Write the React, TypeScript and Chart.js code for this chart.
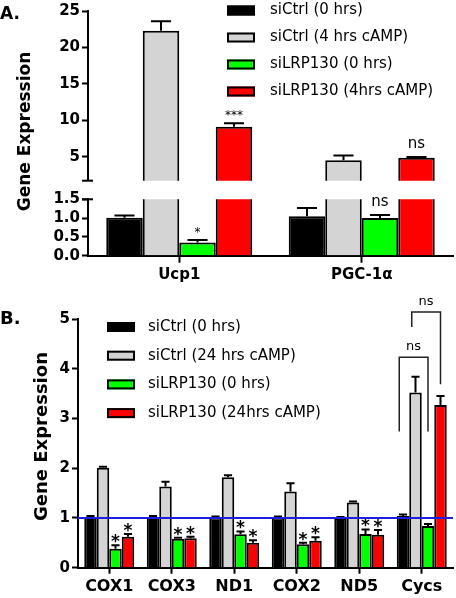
import React, { useEffect, useRef } from "react";
import { Chart, registerables } from "chart.js";

Chart.register(...registerables);

const W = 456;
const H = 598;
const FAMILY = "'DejaVu Sans', 'Liberation Sans', sans-serif";

// ---------- Panel A data ----------
const aCategories = ["Ucp1", "PGC-1α"];
const aSeriesLabels = ["siCtrl (0 hrs)", "siCtrl (4 hrs cAMP)", "siLRP130 (0 hrs)", "siLRP130 (4hrs cAMP)"];
const aCtrl0 = [1.01, 1.05];
const aCtrl4 = [22.3, 4.5];
const aLrp0 = [0.35, 1.0];
const aLrp4 = [9.1, 4.85];
const aCtrl0Err = [0.06, 0.22];
const aCtrl4Err = [1.3, 0.65];
const aLrp0Err = [0.07, 0.08];
const aLrp4Err = [0.5, 0.1];
const aLrp0Sig = ["*", "ns"];
const aLrp4Sig = ["***", "ns"];
const aUpperRange = [1.7, 25];
const aLowerRange = [0, 1.5];
const aUpperTicks = [5, 10, 15, 20, 25];
const aLowerTicks = [0, 0.5, 1.0, 1.5];

// ---------- Panel B data ----------
const bCategories = ["COX1", "COX3", "ND1", "COX2", "ND5", "Cycs"];
const bSeriesLabels = ["siCtrl (0 hrs)", "siCtrl (24 hrs cAMP)", "siLRP130 (0 hrs)", "siLRP130 (24hrs cAMP)"];
const bCtrl0 = [1.02, 1.02, 1.01, 1.01, 1.0, 1.04];
const bCtrl24 = [2.01, 1.63, 1.82, 1.53, 1.31, 3.52];
const bLrp0 = [0.38, 0.58, 0.67, 0.47, 0.68, 0.84];
const bLrp24 = [0.62, 0.59, 0.5, 0.54, 0.66, 3.27];
const bCtrl0Err = [0.02, 0.02, 0.02, 0.02, 0.02, 0.03];
const bCtrl24Err = [0.02, 0.1, 0.04, 0.17, 0.02, 0.32];
const bLrp0Err = [0.07, 0.02, 0.06, 0.03, 0.09, 0.04];
const bLrp24Err = [0.06, 0.03, 0.05, 0.07, 0.1, 0.18];
const bLrp0Sig = ["*", "*", "*", "*", "*", ""];
const bLrp24Sig = ["*", "*", "*", "*", "*", ""];
const bTicks = [0, 1, 2, 3, 4, 5];
const bRange = [0, 5];
const bRefLine = 1;
// significance brackets (Cycs)
const bracketCategory = 5;
const bracketFrom = [0, 1];
const bracketTo = [2, 3];
const bracketTop = [4.23, 5.14];
const bracketLeftEnd = [2.74, 4.84];
const bracketRightEnd = [2.74, 3.69];
const bracketLabels = ["ns", "ns"];

const COLORS = ["#000000", "#d4d4d4", "#00ff00", "#ff0000"];

// ---------- plugins ----------
const errorBarsPlugin = {
  id: "errorBars",
  afterDatasetsDraw(chart: any, _a: any, opts: any) {
    const errs: number[][] = opts.errors;
    if (!errs) return;
    const ys = chart.scales.y;
    const ctx = chart.ctx;
    ctx.save();
    ctx.strokeStyle = "#000";
    ctx.lineWidth = opts.lineWidth || 2;
    chart.data.datasets.forEach((ds: any, i: number) => {
      const meta = chart.getDatasetMeta(i);
      meta.data.forEach((bar: any, j: number) => {
        const v = ds.data[j];
        const e = errs[i][j];
        if (v < ys.min || v + e > ys.max) return;
        const { x, width } = bar.getProps(["x", "width"], true);
        const y0 = ys.getPixelForValue(v);
        const y1 = ys.getPixelForValue(v + e);
        const hw = (width * opts.capRatio) / 2;
        ctx.beginPath();
        ctx.moveTo(x, y0);
        ctx.lineTo(x, y1);
        ctx.moveTo(x - hw, y1);
        ctx.lineTo(x + hw, y1);
        ctx.stroke();
      });
    });
    ctx.restore();
  },
};

const sigPlugin = {
  id: "sig",
  afterDatasetsDraw(chart: any, _a: any, opts: any) {
    const labels: string[][] = opts.labels;
    const errs: number[][] = opts.errors;
    if (!labels) return;
    const ys = chart.scales.y;
    const ctx = chart.ctx;
    ctx.save();
    ctx.fillStyle = "#000";
    ctx.textAlign = "center";
    ctx.textBaseline = "alphabetic";
    chart.data.datasets.forEach((ds: any, i: number) => {
      const row = labels[i];
      if (!row) return;
      const meta = chart.getDatasetMeta(i);
      meta.data.forEach((bar: any, j: number) => {
        const t = row[j];
        if (!t) return;
        const top = ds.data[j] + errs[i][j];
        if (top < ys.min || top > ys.max) return;
        const isNs = t === "ns";
        ctx.font = isNs ? opts.nsFont : opts.starFont;
        ctx.fillText(t, bar.x, ys.getPixelForValue(top) + (isNs ? opts.nsDy : opts.starDy));
      });
    });
    ctx.restore();
  },
};

const legendPlugin = {
  id: "boxLegend",
  afterDraw(chart: any, _a: any, opts: any) {
    if (!opts.x && opts.x !== 0) return;
    const ctx = chart.ctx;
    ctx.save();
    chart.data.datasets.forEach((ds: any, i: number) => {
      const cy = opts.y + i * opts.rowH;
      ctx.fillStyle = ds.backgroundColor;
      ctx.fillRect(opts.x, cy - opts.boxH / 2, opts.boxW, opts.boxH);
      ctx.strokeStyle = "#000";
      ctx.lineWidth = 2;
      ctx.strokeRect(opts.x + 1, cy - opts.boxH / 2 + 1, opts.boxW - 2, opts.boxH - 2);
      ctx.fillStyle = "#000";
      ctx.font = opts.font;
      ctx.textAlign = "left";
      ctx.textBaseline = "middle";
      ctx.fillText(ds.label, opts.textX, cy);
    });
    ctx.restore();
  },
};

const textsPlugin = {
  id: "texts",
  afterDraw(chart: any, _a: any, opts: any) {
    const items = opts.items || [];
    const ctx = chart.ctx;
    items.forEach((it: any) => {
      ctx.save();
      ctx.fillStyle = "#000";
      ctx.font = it.font;
      ctx.textAlign = it.align || "left";
      ctx.textBaseline = it.baseline || "alphabetic";
      ctx.translate(it.x, it.y);
      if (it.rotate) ctx.rotate(it.rotate);
      ctx.fillText(it.text, 0, 0);
      ctx.restore();
    });
  },
};

const breakCapPlugin = {
  id: "breakCap",
  afterDraw(chart: any, _a: any, opts: any) {
    if (!opts.edge) return;
    const ctx = chart.ctx;
    const ca = chart.chartArea;
    const y = opts.edge === "bottom" ? ca.bottom : ca.top;
    ctx.save();
    ctx.strokeStyle = "#000";
    ctx.lineWidth = 2;
    ctx.beginPath();
    ctx.moveTo(ca.left - 6, y);
    ctx.lineTo(ca.left + 5, y);
    ctx.stroke();
    ctx.restore();
  },
};

const refLinePlugin = {
  id: "refLine",
  afterDatasetsDraw(chart: any, _a: any, opts: any) {
    if (opts.value === undefined) return;
    const ys = chart.scales.y;
    const ca = chart.chartArea;
    const y = ys.getPixelForValue(opts.value);
    const ctx = chart.ctx;
    ctx.save();
    ctx.strokeStyle = opts.color;
    ctx.lineWidth = 2;
    ctx.beginPath();
    ctx.moveTo(ca.left, y);
    ctx.lineTo(ca.right, y);
    ctx.stroke();
    ctx.restore();
  },
};

const bracketPlugin = {
  id: "brackets",
  afterDatasetsDraw(chart: any, _a: any, opts: any) {
    if (!opts.from) return;
    const ys = chart.scales.y;
    const ctx = chart.ctx;
    ctx.save();
    ctx.strokeStyle = "#222";
    ctx.lineWidth = 1.5;
    ctx.fillStyle = "#000";
    ctx.font = opts.font;
    ctx.textAlign = "center";
    ctx.textBaseline = "alphabetic";
    opts.from.forEach((f: number, k: number) => {
      const barL = chart.getDatasetMeta(f).data[opts.category];
      const barR = chart.getDatasetMeta(opts.to[k]).data[opts.category];
      const xL = barL.x - barL.width * opts.leftShift;
      const xR = barR.x;
      const yT = ys.getPixelForValue(opts.top[k]);
      ctx.beginPath();
      ctx.moveTo(xL, ys.getPixelForValue(opts.leftEnd[k]));
      ctx.lineTo(xL, yT);
      ctx.lineTo(xR, yT);
      ctx.lineTo(xR, ys.getPixelForValue(opts.rightEnd[k]));
      ctx.stroke();
      ctx.fillText(opts.labels[k], (xL + xR) / 2, yT + opts.dy);
    });
    ctx.restore();
  },
};

// ---------- helpers ----------
function makeDatasets(labels: string[], series: number[][], clip: any) {
  return series.map((data, i) => ({
    label: labels[i],
    data,
    backgroundColor: COLORS[i],
    borderColor: "#000",
    borderWidth: 2,
    clip,
    categoryPercentage: 0.8,
    barPercentage: 1.0,
  }));
}

function yAxis(range: number[], ticks: number[], fmt: (v: number) => string, width: number) {
  return {
    min: range[0],
    max: range[1],
    afterBuildTicks: (s: any) => {
      s.ticks = ticks.map((v) => ({ value: v }));
    },
    afterFit: (s: any) => {
      s.width = width;
    },
    border: { display: true, color: "#000", width: 2 },
    grid: { drawOnChartArea: false, drawTicks: true, tickLength: 6, tickWidth: 2, tickColor: "#000" },
    ticks: {
      color: "#000",
      padding: 2,
      autoSkip: false,
      font: { family: FAMILY, size: 15, weight: "bold" },
      callback: (v: any) => fmt(Number(v)),
    },
  };
}

function xAxis(height: number, tickLen: number, pad: number, size: number) {
  return {
    type: "category",
    offset: true,
    afterFit: (s: any) => {
      s.height = height;
    },
    border: { display: true, color: "#000", width: 2 },
    grid: { drawOnChartArea: false, offset: false, drawTicks: true, tickLength: tickLen, tickWidth: 2, tickColor: "#000" },
    ticks: {
      color: "#000",
      padding: pad,
      autoSkip: false,
      maxRotation: 0,
      font: { family: FAMILY, size, weight: "bold" },
    },
  };
}

const allPlugins = [errorBarsPlugin, sigPlugin, legendPlugin, textsPlugin, breakCapPlugin, refLinePlugin, bracketPlugin];

export default function App() {
  const refA1 = useRef<HTMLCanvasElement>(null);
  const refA2 = useRef<HTMLCanvasElement>(null);
  const refB = useRef<HTMLCanvasElement>(null);

  useEffect(() => {
    Chart.defaults.font.family = FAMILY;
    const aSeries = [aCtrl0, aCtrl4, aLrp0, aLrp4];
    const aErrs = [aCtrl0Err, aCtrl4Err, aLrp0Err, aLrp4Err];
    const aSig = [null, null, aLrp0Sig, aLrp4Sig];
    const bSeries = [bCtrl0, bCtrl24, bLrp0, bLrp24];
    const bErrs = [bCtrl0Err, bCtrl24Err, bLrp0Err, bLrp24Err];
    const bSig = [null, null, bLrp0Sig, bLrp24Sig];

    const common = {
      responsive: false,
      animation: false,
      events: [],
    };

    const aTop = new Chart(refA1.current as HTMLCanvasElement, {
      type: "bar",
      data: {
        labels: aCategories,
        datasets: makeDatasets(aSeriesLabels, aSeries, { left: false, right: false, top: false, bottom: 0 }) as any,
      },
      plugins: allPlugins as any,
      options: {
        ...common,
        layout: { padding: { left: 28, top: 10, right: 3, bottom: H - 180.7 } },
        scales: {
          x: { type: "category", offset: true, display: false },
          y: yAxis(aUpperRange, aUpperTicks, (v) => String(v), 60) as any,
        },
        plugins: {
          legend: { display: false },
          tooltip: { enabled: false },
          errorBars: { errors: aErrs, capRatio: 0.55, lineWidth: 2 },
          sig: {
            labels: aSig,
            errors: aErrs,
            starFont: `12px ${FAMILY}`,
            nsFont: `15px ${FAMILY}`,
            starDy: -4,
            nsDy: -9,
          },
          boxLegend: { x: 227, y: 10.5, rowH: 27, boxW: 28, boxH: 10, textX: 270, font: `15px ${FAMILY}` },
          texts: { items: [{ text: "A.", x: 0, y: 18.5, font: `bold 17px ${FAMILY}` }] },
          breakCap: { edge: "bottom" },
        } as any,
      } as any,
    });

    const aBottom = new Chart(refA2.current as HTMLCanvasElement, {
      type: "bar",
      data: {
        labels: aCategories,
        datasets: makeDatasets(aSeriesLabels, aSeries, { left: false, right: false, top: 0, bottom: false }) as any,
      },
      plugins: allPlugins as any,
      options: {
        ...common,
        layout: { padding: { left: 28, top: 199.3, right: 3, bottom: H - 255.7 - 40 } },
        scales: {
          x: xAxis(40, 7, 3, 15) as any,
          y: yAxis(aLowerRange, aLowerTicks, (v) => v.toFixed(1), 60) as any,
        },
        plugins: {
          legend: { display: false },
          tooltip: { enabled: false },
          errorBars: { errors: aErrs, capRatio: 0.55, lineWidth: 2 },
          sig: {
            labels: aSig,
            errors: aErrs,
            starFont: `12px ${FAMILY}`,
            nsFont: `15px ${FAMILY}`,
            starDy: -4,
            nsDy: -9,
          },
          texts: {
            items: [
              {
                text: "Gene Expression",
                x: 26,
                y: 131.5,
                rotate: -Math.PI / 2,
                align: "center",
                baseline: "middle",
                font: `bold 17px ${FAMILY}`,
              },
            ],
          },
          breakCap: { edge: "top" },
        } as any,
      } as any,
    });

    const bChart = new Chart(refB.current as HTMLCanvasElement, {
      type: "bar",
      data: {
        labels: bCategories,
        datasets: makeDatasets(bSeriesLabels, bSeries, 0) as any,
      },
      plugins: allPlugins as any,
      options: {
        ...common,
        layout: { padding: { left: 18, top: 319, right: 3, bottom: H - 567.7 - 28 } },
        scales: {
          x: xAxis(28, 6, 4, 16) as any,
          y: yAxis(bRange, bTicks, (v) => String(v), 60) as any,
        },
        plugins: {
          legend: { display: false },
          tooltip: { enabled: false },
          errorBars: { errors: bErrs, capRatio: 0.65, lineWidth: 2 },
          sig: {
            labels: bSig,
            errors: bErrs,
            starFont: `bold 17px ${FAMILY}`,
            nsFont: `13px ${FAMILY}`,
            starDy: 2,
            nsDy: -7,
          },
          refLine: { value: bRefLine, color: "#1e1ee0" },
          brackets: {
            category: bracketCategory,
            from: bracketFrom,
            to: bracketTo,
            top: bracketTop,
            leftEnd: bracketLeftEnd,
            rightEnd: bracketRightEnd,
            labels: bracketLabels,
            leftShift: 0.3,
            font: `13px ${FAMILY}`,
            dy: -7,
          },
          boxLegend: { x: 107, y: 327, rowH: 28.7, boxW: 28, boxH: 10, textX: 148, font: `15px ${FAMILY}` },
          texts: {
            items: [
              { text: "B.", x: 0, y: 323.5, font: `bold 18px ${FAMILY}` },
              {
                text: "Gene Expression",
                x: 42.5,
                y: 436.5,
                rotate: -Math.PI / 2,
                align: "center",
                baseline: "middle",
                font: `bold 18px ${FAMILY}`,
              },
            ],
          },
        } as any,
      } as any,
    });

    return () => {
      aTop.destroy();
      aBottom.destroy();
      bChart.destroy();
    };
  }, []);

  const cs: React.CSSProperties = { position: "absolute", left: 0, top: 0, width: W, height: H };
  return (
    <div style={{ position: "absolute", left: 0, top: 0, width: W, height: H, background: "#fff" }}>
      <canvas ref={refA1} width={W} height={H} style={cs} />
      <canvas ref={refA2} width={W} height={H} style={cs} />
      <canvas ref={refB} width={W} height={H} style={cs} />
    </div>
  );
}
